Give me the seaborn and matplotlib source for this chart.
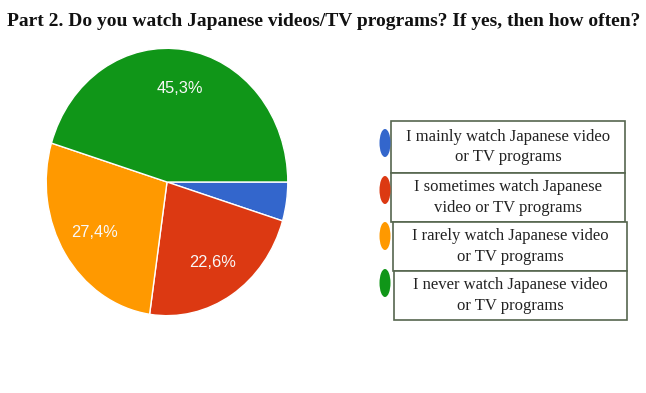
import matplotlib
matplotlib.use("Agg")
import matplotlib.pyplot as plt
import seaborn as sns
from matplotlib.patches import Rectangle, Ellipse

sns.set_theme(style="white")

categories = [
    "I mainly watch Japanese video\nor TV programs",
    "I sometimes watch Japanese\nvideo or TV programs",
    "I rarely watch Japanese video\nor TV programs",
    "I never watch Japanese video\nor TV programs",
]
values = [4.7, 22.6, 27.4, 45.3]
colors = ["#3366CC", "#DC3912", "#FF9900", "#109618"]
title = "Part 2. Do you watch Japanese videos/TV programs? If yes, then how often?"

W, H = 646, 393
fig = plt.figure(figsize=(W / 100, H / 100), dpi=100)
fig.patch.set_facecolor("white")

def fx(px):
    return px / W

def fy(py):
    return 1 - py / H

# Pie (elliptical as in reference)
ax = fig.add_axes([fx(45), fy(317), fx(289) - fx(45), fy(47) - fy(317)])
def pct(p):
    return "" if p < 10 else f"{p:.1f}%".replace(".", ",")
wedges, texts, autotexts = ax.pie(
    values, colors=colors, startangle=0, counterclock=False,
    autopct=pct, pctdistance=0.71,
    wedgeprops=dict(edgecolor="white", linewidth=1.0),
    textprops=dict(color="#f8f8f8", fontsize=11.8, family="Liberation Sans"),
)
ax.set_aspect("auto")
ax.set_xlim(-1.01, 1.01)
ax.set_ylim(-1.01, 1.01)
ax.axis("off")

# Title
fig.text(fx(7), fy(26), title, family="Liberation Serif", fontweight="bold",
         fontsize=14.0, color="#111111", ha="left", va="baseline")

# Legend boxes
box_x0 = [391, 391, 393, 394]
box_x1 = [625, 625, 627, 627]
box_y0 = [121, 173, 222, 271]
box_y1 = [173, 222, 271, 320]
marker_y = [143, 190, 236, 283]
for i, lab in enumerate(categories):
    x0, x1, y0, y1 = box_x0[i], box_x1[i], box_y0[i], box_y1[i]
    fig.add_artist(Rectangle((fx(x0), fy(y1)), fx(x1 - x0), (y1 - y0) / H,
                             transform=fig.transFigure, facecolor="white",
                             edgecolor="#56664f", linewidth=1.2))
    fig.text(fx((x0 + x1) / 2), fy((y0 + y1) / 2), lab, family="Liberation Serif",
             fontsize=12.0, color="#222222", ha="center", va="center",
             linespacing=1.4)
    fig.add_artist(Ellipse((fx(385), fy(marker_y[i])), fx(11), 28 / H,
                           transform=fig.transFigure, facecolor=colors[i],
                           edgecolor="none"))

fig.savefig("out.png", dpi=100, facecolor="white")
